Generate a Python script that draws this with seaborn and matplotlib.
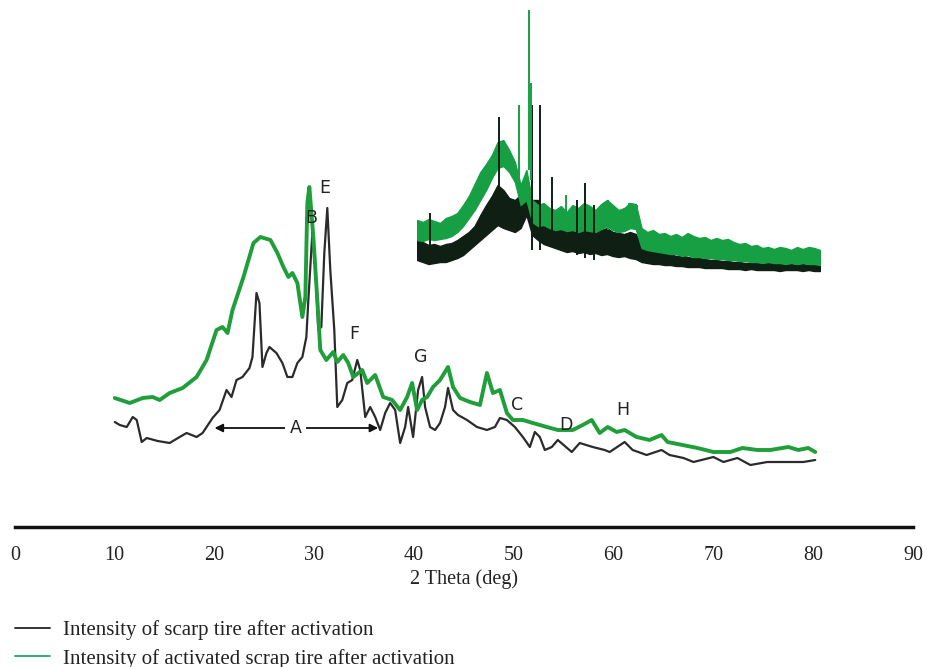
import numpy as np
import pandas as pd
import seaborn as sns
import matplotlib.pyplot as plt
from matplotlib.lines import Line2D

# ---- main XRD traces (2 theta in deg, intensity in arbitrary units) ----
black_x = [10.0, 10.5, 11.2, 11.8, 12.2, 12.7, 13.2, 14.3, 15.5, 16.5,
           17.2, 18.2, 18.8, 19.8, 20.5, 21.2, 21.7, 22.2, 22.8, 23.5,
           23.8, 24.2, 24.5, 24.8, 25.2, 25.5, 26.2, 26.8, 27.3, 27.8,
           28.3, 28.8, 29.2, 29.4, 29.8, 30.1, 30.4, 30.7, 31.0, 31.3,
           31.6, 32.0, 32.3, 32.8, 33.3, 33.8, 34.3, 34.6, 35.1, 35.6,
           36.1, 36.6, 37.1, 37.6, 38.1, 38.6, 39.1, 39.4, 39.9, 40.4,
           40.8, 41.1, 41.6, 42.1, 42.6, 43.1, 43.4, 43.9, 44.4, 45.3,
           46.3, 47.3, 48.1, 48.6, 49.3, 50.1, 50.9, 51.6, 52.1, 52.6,
           53.1, 53.8, 54.4, 55.8, 56.6, 57.9, 59.1, 59.6, 61.1, 61.9,
           63.3, 64.8, 65.6, 67.0, 68.0, 70.0, 71.0, 72.4, 73.7, 75.4,
           77.0, 79.0, 80.2]
black_y = [105, 102, 100, 110, 107, 85, 89, 86, 84, 90,
           94, 90, 94, 109, 117, 137, 130, 147, 150, 159,
           170, 234, 224, 160, 174, 180, 174, 164, 150, 150,
           164, 170, 190, 227, 294, 257, 197, 200, 274, 319,
           257, 197, 120, 127, 144, 147, 167, 157, 110, 120,
           110, 97, 114, 124, 117, 84, 100, 120, 90, 137,
           150, 120, 100, 97, 104, 120, 139, 117, 112, 107,
           100, 97, 100, 109, 107, 100, 90, 80, 95, 90,
           77, 80, 87, 75, 84, 80, 77, 75, 85, 77,
           72, 77, 72, 69, 65, 70, 65, 69, 62, 65,
           65, 65, 67]

green_x = [10.0, 11.5, 12.8, 13.8, 14.5, 15.5, 16.8, 18.2, 19.2, 20.2,
           20.8, 21.3, 21.8, 22.9, 23.9, 24.6, 25.6, 26.3, 26.9, 27.4,
           27.8, 28.3, 28.8, 29.1, 29.3, 29.5, 29.9, 30.3, 30.6, 31.2,
           31.9, 32.3, 32.9, 33.4, 33.9, 34.8, 35.3, 36.1, 36.9, 37.8,
           38.6, 39.3, 39.8, 40.3, 40.8, 41.3, 41.9, 42.6, 43.4, 43.9,
           44.6, 45.6, 46.6, 47.3, 47.9, 48.6, 49.3, 49.9, 50.9, 51.9,
           53.3, 54.4, 55.9, 56.9, 57.8, 58.6, 59.4, 60.3, 61.1, 62.3,
           63.6, 64.8, 65.4, 66.9, 68.4, 70.0, 71.7, 72.9, 74.4, 75.7,
           77.5, 78.5, 79.5, 80.2]
green_y = [129, 124, 129, 130, 127, 134, 139, 150, 167, 197,
           200, 194, 217, 250, 284, 290, 287, 274, 260, 250,
           254, 244, 210, 230, 324, 340, 290, 227, 177, 167,
           175, 165, 172, 164, 150, 157, 144, 152, 130, 127,
           117, 130, 144, 117, 127, 130, 140, 147, 160, 140,
           129, 125, 122, 154, 134, 137, 114, 107, 107, 104,
           100, 97, 97, 102, 107, 94, 100, 95, 97, 90,
           87, 92, 85, 82, 79, 75, 75, 79, 77, 77,
           80, 77, 79, 75]

# ---- inset: full-range raw scan, noise band (top / bottom of band) ----
inset_x = list(range(10, 81))
inset_green_top = [60, 58, 61, 59, 57, 62, 64, 67, 75, 84,
                   96, 108, 116, 125, 138, 140, 130, 118, 95, 110,
                   80, 75, 77, 72, 70, 74, 68, 75, 72, 77,
                   74, 70, 76, 80, 75, 70, 72, 77, 76, 52,
                   48, 50, 46, 47, 44, 46, 43, 47, 44, 42,
                   43, 40, 42, 40, 41, 38, 36, 37, 34, 35,
                   32, 33, 31, 33, 32, 30, 33, 31, 33, 32, 30]
inset_green_bot = [40, 39, 41, 40, 41, 42, 44, 48, 54, 62,
                   70, 80, 90, 102, 112, 114, 108, 98, 75, 80,
                   58, 54, 55, 52, 50, 51, 49, 50, 48, 50,
                   49, 48, 51, 54, 50, 48, 49, 52, 51, 32,
                   30, 29, 28, 27, 26, 26, 24, 25, 23, 23,
                   22, 22, 21, 21, 20, 20, 19, 19, 18, 18,
                   17, 18, 17, 17, 16, 17, 16, 17, 16, 16, 15]
inset_black_top = [42, 38, 35, 36, 34, 36, 37, 40, 44, 48,
                   54, 65, 75, 84, 95, 90, 82, 80, 85, 95,
                   80, 80, 68, 64, 60, 56, 54, 53, 56, 52,
                   50, 52, 50, 52, 48, 47, 46, 48, 46, 35,
                   32, 30, 28, 27, 26, 24, 25, 23, 22, 22,
                   21, 20, 20, 19, 19, 18, 18, 17, 17, 18,
                   17, 18, 16, 17, 16, 16, 15, 16, 15, 16, 15]
inset_black_bot = [20, 18, 16, 17, 18, 18, 20, 22, 25, 30,
                   35, 40, 45, 50, 55, 52, 50, 48, 52, 65,
                   45, 40, 36, 34, 32, 30, 28, 29, 27, 28,
                   26, 27, 25, 26, 24, 23, 24, 22, 21, 18,
                   17, 16, 16, 15, 15, 14, 14, 13, 13, 13,
                   12, 12, 12, 12, 11, 11, 11, 10, 11, 10,
                   10, 10, 10, 9, 10, 10, 10, 9, 10, 9, 9]
inset_green_spike_x = [27.7, 29.5, 29.8, 35.9, 43.2, 46.8, 48.3]
inset_green_spike_top = [175, 270, 197, 85, 80, 77, 75]
inset_green_spike_base = [95, 110, 100, 52, 50, 50, 48]
inset_black_spike_x = [12.3, 24.3, 30.0, 31.3, 33.4, 37.8, 39.2, 40.8]
inset_black_spike_top = [67, 163, 175, 175, 103, 80, 97, 75]
inset_black_spike_base = [18, 55, 30, 30, 34, 25, 22, 20]

# ---- peak labels ----
peak_labels = ['E', 'B', 'F', 'G', 'C', 'D', 'H']
peak_x = [31.0, 29.7, 34.0, 40.7, 50.3, 55.2, 60.9]
peak_y = [339, 309, 193, 170, 122, 102, 117]

legend_labels = ['Intensity of scarp tire after activation',
                 'Intensity of activated scrap tire after activation']

sns.set_style('white')
plt.rcParams['font.family'] = ['Liberation Serif', 'DejaVu Serif']

BLACK = '#2b2b2b'
GREEN = '#1f9e3a'
IN_BLACK = '#0f1f14'
IN_GREEN = '#17a043'

fig = plt.figure(figsize=(9.28, 6.67), dpi=100)
ax = fig.add_axes([15/928, 140/667, 898/928, 527/667])

main = pd.DataFrame({'x': black_x, 'y': black_y})
act = pd.DataFrame({'x': green_x, 'y': green_y})
sns.lineplot(data=main, x='x', y='y', ax=ax, color=BLACK, lw=1.6, sort=False, zorder=2)
sns.lineplot(data=act, x='x', y='y', ax=ax, color=GREEN, lw=2.8, sort=False, zorder=3)

ax.set_xlim(0, 90)
ax.set_ylim(0, 527)
ax.set_yticks([])
ax.set_xticks(range(0, 91, 10))
ax.set_xticks(range(5, 90, 10), minor=True)
for s in ['top', 'right', 'left']:
    ax.spines[s].set_visible(False)
ax.spines['bottom'].set_linewidth(2.5)
ax.spines['bottom'].set_color('#111111')
ax.tick_params(axis='x', which='major', length=9, width=2, color='#111111',
               labelsize=14.5, pad=5, labelcolor='#222222')
ax.tick_params(axis='x', which='minor', length=5, width=2, color='#111111')
ax.set_xlabel('2 Theta (deg)', fontsize=14.5, color='#222222', labelpad=3)
ax.set_ylabel('')

# peak letters
for lab, px, py in zip(peak_labels, peak_x, peak_y):
    ax.text(px, py, lab, ha='center', va='center', fontsize=12.5,
            family='DejaVu Sans', color='#222222', zorder=5)

# region A double arrow
ax.annotate('', xy=(20.0, 99), xytext=(36.4, 99),
            arrowprops=dict(arrowstyle='<|-|>', color='#111111', lw=1.3,
                            mutation_scale=12, shrinkA=0, shrinkB=0), zorder=4)
ax.text(28.1, 99, 'A', ha='center', va='center', fontsize=12.5, family='DejaVu Sans',
        color='#222222', zorder=5,
        bbox=dict(boxstyle='square,pad=0.25', fc='white', ec='none'))

# legend below axis
handles = [Line2D([], [], color='#222222', lw=1.3),
           Line2D([], [], color='#1aa866', lw=1.3)]
ax.legend(handles, legend_labels, loc='upper left', frameon=False,
          bbox_to_anchor=(15/928, 47/667), bbox_transform=fig.transFigure,
          borderaxespad=0, borderpad=0, handlelength=1.68, handletextpad=0.62,
          labelspacing=0.43, fontsize=15, labelcolor='#222222')

# inset raw scan
ax_in = fig.add_axes([417/928, 387/667, 403/928, 280/667])
ax_in.fill_between(inset_x, inset_black_bot, inset_black_top,
                   color=IN_BLACK, lw=1.0, edgecolor=IN_BLACK)
ax_in.vlines(inset_black_spike_x, inset_black_spike_base, inset_black_spike_top,
             color=IN_BLACK, lw=1.4)
ax_in.fill_between(inset_x, inset_green_bot, inset_green_top,
                   color=IN_GREEN, lw=1.0, edgecolor=IN_GREEN)
ax_in.vlines(inset_green_spike_x, inset_green_spike_base, inset_green_spike_top,
             color=IN_GREEN, lw=1.4)
ax_in.set_xlim(10, 80)
ax_in.set_ylim(0, 280)
ax_in.axis('off')

fig.savefig('out.png', dpi=100, facecolor='white')
